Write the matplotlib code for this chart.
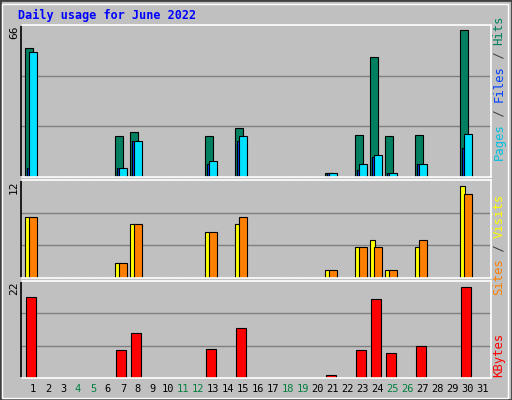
import matplotlib
matplotlib.use("Agg")
from matplotlib import pyplot as plt
import numpy as np

# 每日数据 (June 2022)
days = list(range(1, 32))
hits = [58, 0, 0, 0, 0, 0, 18.5, 20, 0, 0, 0, 0, 18.5, 0, 22, 0, 0, 0, 0, 0, 2, 0, 19, 54, 18.5, 0, 19, 0, 0, 66, 0]
files = [56, 0, 0, 0, 0, 0, 4, 16, 0, 0, 0, 0, 7, 0, 18.5, 0, 0, 0, 0, 0, 2, 0, 6, 10, 2, 0, 6, 0, 0, 19.5, 0]
pages = [4, 0, 0, 0, 0, 0, 4, 16, 0, 0, 0, 0, 6, 0, 16, 0, 0, 0, 0, 0, 2, 0, 3, 9, 2, 0, 6, 0, 0, 13, 0]
visits = [8, 0, 0, 0, 0, 0, 2, 7, 0, 0, 0, 0, 6, 0, 7, 0, 0, 0, 0, 0, 1, 0, 4, 5, 1, 0, 4, 0, 0, 12, 0]
sites = [8, 0, 0, 0, 0, 0, 2, 7, 0, 0, 0, 0, 6, 0, 8, 0, 0, 0, 0, 0, 1, 0, 4, 4, 1, 0, 5, 0, 0, 11, 0]
kbytes = [19.6, 0, 0, 0, 0, 0, 6.8, 10.9, 0, 0, 0, 0, 7.1, 0, 12.1, 0, 0, 0, 0, 0, 0.8, 0, 6.8, 19.1, 6.1, 0, 7.8, 0, 0, 22, 0]
weekend = [4, 5, 11, 12, 18, 19, 25, 26]

W, H = 512, 400
fig = plt.figure(figsize=(W / 100, H / 100), dpi=100, facecolor="#C0C0C0")
plt.rcParams["font.family"] = "DejaVu Sans Mono"

# 外框
fig.patches.append(plt.Rectangle((0, 0), 1, 1, transform=fig.transFigure,
                                 fill=False, edgecolor="#404040", lw=2))
fig.patches.append(plt.Rectangle((2 / W, 2 / H), 1 - 6 / W, 1 - 6 / H, transform=fig.transFigure,
                                 fill=False, edgecolor="white", lw=1))

x0, x1 = 20.7, 490.7
xlim = (0.693, 0.693 + (x1 - x0) / 15)
d = np.array(days, dtype=float)


def make_ax(top, bottom):
    ax = fig.add_axes([x0 / W, 1 - bottom / H, (x1 - x0) / W, (bottom - top) / H])
    ax.set_facecolor("#C0C0C0")
    ax.set_xlim(*xlim)
    ax.set_xticks([])
    ax.set_yticks([])
    for s in ax.spines.values():
        s.set_color("white")
        s.set_linewidth(1.2)
    ax.spines["left"].set_color("black")
    return ax


def grid(ax, top):
    ax.set_ylim(0, top)
    for k in (1 / 3, 2 / 3):
        ax.axhline(top * k, color="#808080", lw=1, zorder=0)


ec = dict(edgecolor="black", linewidth=0.8, align="edge")

ax1 = make_ax(25, 177)
grid(ax1, 66 / 0.968)
ax1.bar(d, hits, width=0.5, color="#008060", **ec)
ax1.bar(d + 0.11, pages, width=0.15, color="#0040FF", **ec)
ax1.bar(d + 0.27, files, width=0.49, color="#00E0FF", **ec)

ax2 = make_ax(180, 278)
grid(ax2, 12 / 0.94)
ax2.bar(d, visits, width=0.3, color="#FFFF00", **ec)
ax2.bar(d + 0.27, sites, width=0.49, color="#FF8000", **ec)

ax3 = make_ax(281, 378)
grid(ax3, 22 / 0.94)
ax3.bar(d + 0.07, kbytes, width=0.66, color="#FF0000", **ec)

# 左侧最大值
for y, t in ((32, "66"), (187, "12"), (288, "22")):
    fig.text(14 / W, 1 - y / H, t, rotation=90, ha="center", va="center", fontsize=8)

# 右侧图例
def right_label(yc, parts):
    total = sum(len(p[0]) for p in parts)
    ch = 7.2
    y = yc + total * ch / 2
    for txt, col in parts:
        fig.text(499 / W, 1 - y / H, txt, rotation=90, ha="center", va="bottom",
                 color=col, fontsize=8.8)
        y -= len(txt) * ch

right_label(88, [("Pages", "#00C0E0"), (" / ", "#404040"), ("Files", "#0040FF"),
                 (" / ", "#404040"), ("Hits", "#008060")])
right_label(245, [("Sites", "#FF8000"), (" / ", "#404040"), ("Visits", "#FFFF00")])
right_label(355, [("KBytes", "#FF0000")])

# 日期
for day in days:
    xp = x0 + (day + 0.51 - xlim[0]) * 15
    fig.text(xp / W, 1 - 389 / H, str(day), ha="center", va="center", fontsize=7.5,
             color="#008040" if day in weekend else "black")

fig.text(18 / W, 1 - 15 / H, "Daily usage for June 2022", color="#0000FF",
         fontsize=8.5, fontweight="bold", va="center")

fig.savefig("out.png", dpi=100, facecolor=fig.get_facecolor())
